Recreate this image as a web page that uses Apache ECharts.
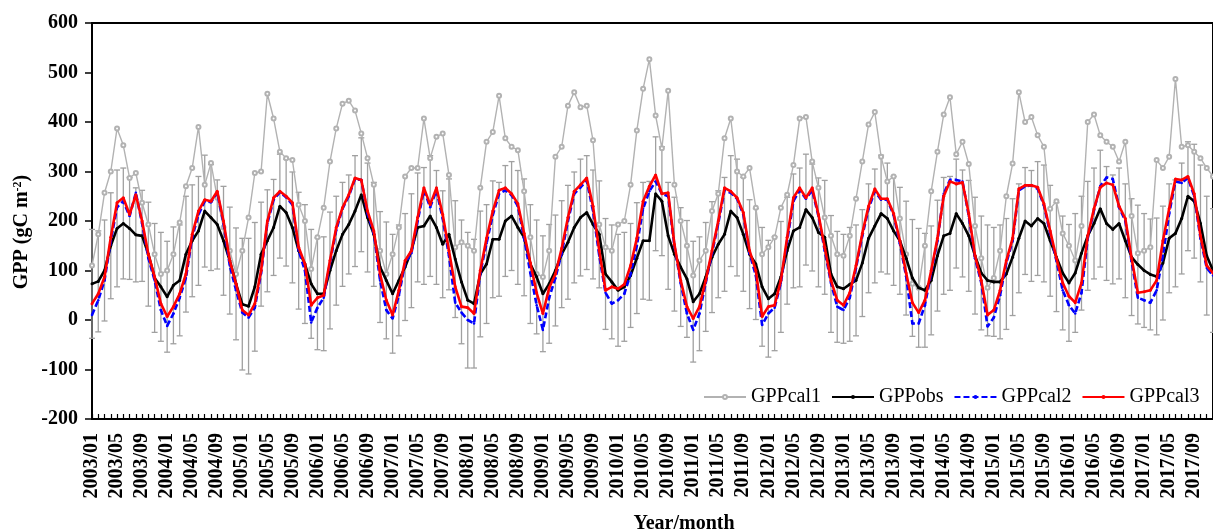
<!DOCTYPE html>
<html lang="en">
<head>
    <meta charset="UTF-8">
    <title>GPP</title>
    <script src="https://cdn.jsdelivr.net/npm/echarts@6/dist/echarts.min.js"></script>
</head>
<body style="margin: 0; background: #fff;">
    <div id="graph" style="width: 1213px; height: 530px;"></div>

    <script>
        // months 2003/01 .. 2017/12
        var years = [2003, 2004, 2005, 2006, 2007, 2008, 2009, 2010, 2011, 2012, 2013, 2014, 2015, 2016, 2017];
        var months = ['01', '02', '03', '04', '05', '06', '07', '08', '09', '10', '11', '12'];

        var gppCal1 = [
            110, 173, 257, 300, 387, 353, 287, 297, 237, 193, 133, 93,
            100, 133, 197, 270, 307, 390, 273, 317, 247, 187, 140, 93,
            140, 207, 297, 300, 457, 407, 340, 327, 323, 233, 200, 103,
            167, 227, 320, 387, 437, 443, 423, 377, 327, 273, 140, 93,
            133, 187, 290, 307, 307, 407, 327, 370, 377, 293, 147, 157,
            150, 140, 267, 360, 380, 453, 367, 350, 343, 260, 167, 93,
            87, 140, 330, 350, 433, 460, 430, 433, 363, 193, 147, 140,
            193, 200, 273, 383, 467, 527, 413, 347, 463, 273, 200, 150,
            90, 120, 140, 220, 255, 367, 407, 300, 290, 307, 227, 133,
            147, 167, 227, 253, 313, 407, 410, 320, 267, 207, 170, 133,
            130, 170, 245, 320, 395, 420, 330, 280, 290, 205, 133, 73,
            65, 150, 260, 340, 415, 450, 335, 360, 315, 190, 125, 65,
            85, 140, 250, 316, 460, 400, 410, 373, 350, 225, 240, 175,
            150, 120, 190, 400, 415, 373, 360, 350, 320, 360, 210, 135,
            140, 147, 323, 307, 330, 487, 350, 353, 340, 327, 307, 290
        ];

        var gppObs = [
            73, 78, 100, 150, 185, 195, 185, 172, 170, 133, 85, 67,
            47, 70, 80, 133, 160, 180, 220, 207, 193, 160, 120, 73,
            32, 28, 67, 133, 160, 187, 230, 217, 187, 140, 113, 73,
            53, 53, 100, 140, 173, 193, 220, 253, 207, 173, 107, 80,
            53, 80, 107, 140, 187, 190, 210, 187, 153, 173, 123, 77,
            40, 33, 93, 113, 163, 163, 200, 210, 187, 167, 113, 87,
            53, 73, 100, 133, 157, 187, 207, 217, 193, 173, 93, 77,
            60, 67, 90, 125, 160, 160, 255, 240, 170, 133, 107, 83,
            37, 53, 87, 127, 153, 173, 220, 207, 173, 133, 113, 67,
            43, 53, 87, 140, 180, 187, 223, 207, 177, 167, 93, 67,
            63, 72, 80, 115, 165, 190, 215, 205, 180, 160, 125, 85,
            65, 60, 80, 130, 170, 175, 215, 195, 170, 130, 95, 80,
            77, 77, 93, 127, 165, 200, 190, 205, 195, 160, 127, 95,
            75, 95, 135, 170, 195, 225, 195, 183, 195, 160, 127, 112,
            100, 92, 88, 115, 165, 175, 205, 250, 240, 195, 130, 100
        ];

        // half length of the error bars on GPPobs
        var obsErr = [
            110, 102, 102, 107, 118, 112, 103, 95, 92, 105, 110, 110,
            112, 118, 112, 117, 113, 110, 113, 107, 90, 110, 108, 113,
            133, 137, 130, 105, 103, 97, 105, 108, 112, 118, 120, 110,
            113, 115, 118, 110, 105, 100, 112, 115, 110, 105, 112, 118,
            120, 112, 108, 115, 110, 118, 122, 115, 108, 112, 118, 125,
            137, 130, 127, 120, 118, 115, 112, 110, 115, 118, 120, 115,
            117, 120, 112, 108, 115, 112, 118, 115, 110, 108, 112, 115,
            113, 110, 105, 112, 118, 120, 115, 110, 108, 115, 120, 118,
            122, 115, 110, 112, 108, 115, 112, 118, 115, 110, 112, 120,
            118, 115, 112, 108, 115, 120, 112, 108, 110, 115, 118, 112,
            110, 115, 112, 108, 110, 115, 118, 112, 110, 108, 115, 118,
            120, 115, 110, 112, 118, 115, 110, 108, 112, 118, 115, 112,
            110, 115, 112, 118, 110, 108, 112, 115, 118, 112, 110, 115,
            118, 120, 115, 110, 112, 118, 115, 110, 112, 115, 118, 120,
            115, 112, 118, 115, 110, 108, 112, 110, 115, 118, 120, 125
        ];

        var gppCal2 = [
            10, 40, 80, 160, 228, 240, 210, 257, 195, 125, 80, 20,
            -12, 13, 45, 85, 167, 213, 240, 238, 257, 195, 110, 60,
            15, 5, 25, 95, 195, 243, 258, 248, 233, 140, 100, -5,
            25, 45, 115, 182, 225, 250, 285, 283, 215, 175, 80, 20,
            3, 50, 115, 135, 200, 262, 228, 262, 205, 130, 35, 15,
            0, -7, 95, 155, 212, 255, 262, 252, 230, 165, 95, 30,
            -20, 45, 85, 135, 200, 255, 268, 282, 220, 130, 55, 33,
            40, 53, 93, 150, 225, 260, 280, 255, 250, 150, 75, 13,
            -20, 13, 75, 135, 195, 262, 257, 245, 213, 135, 90, -10,
            13, 25, 75, 160, 240, 262, 245, 262, 210, 140, 75, 27,
            20, 45, 105, 170, 225, 260, 243, 243, 212, 155, 88, -7,
            -7, 30, 95, 160, 255, 283, 283, 280, 210, 125, 75, -13,
            5, 50, 115, 160, 262, 270, 272, 265, 232, 175, 120, 60,
            30, 13, 55, 165, 222, 270, 288, 285, 228, 200, 118, 45,
            40, 35, 60, 130, 215, 280, 277, 287, 250, 165, 105, 90
        ];

        var gppCal3 = [
            33, 53, 87, 167, 237, 247, 213, 253, 200, 133, 87, 33,
            7, 27, 53, 93, 173, 220, 243, 240, 260, 200, 120, 73,
            20, 10, 33, 100, 200, 247, 260, 250, 237, 147, 113, 30,
            45, 50, 120, 187, 227, 253, 287, 283, 220, 180, 93, 40,
            10, 60, 120, 140, 207, 267, 233, 267, 213, 140, 67, 27,
            25, 13, 100, 165, 220, 262, 267, 255, 235, 175, 115, 55,
            13, 65, 93, 145, 207, 260, 273, 287, 230, 140, 60, 67,
            63, 72, 110, 165, 240, 270, 293, 255, 257, 153, 80, 27,
            3, 27, 80, 140, 200, 267, 260, 247, 217, 140, 100, 7,
            27, 30, 80, 167, 247, 267, 247, 267, 213, 147, 80, 40,
            30, 55, 110, 175, 230, 265, 245, 245, 215, 160, 95, 35,
            15, 40, 100, 165, 250, 280, 275, 278, 215, 130, 80, 10,
            20, 60, 120, 165, 265, 272, 272, 268, 235, 180, 125, 75,
            48, 35, 75, 170, 225, 268, 277, 273, 230, 205, 125, 55,
            57, 60, 80, 160, 225, 285, 283, 290, 255, 170, 110, 95
        ];

        var categories = [];
        for (var i = 0; i < years.length; i++) {
            for (var j = 0; j < months.length; j++) {
                categories.push(years[i] + '/' + months[j]);
            }
        }

        var errData = [];
        for (var k = 0; k < gppObs.length; k++) {
            errData.push([k, gppObs[k] - obsErr[k], gppObs[k] + obsErr[k]]);
        }

        var serif = 'Liberation Serif';

        function renderErr(params, api) {
            var lo = api.coord([api.value(0), api.value(1)]);
            var hi = api.coord([api.value(0), api.value(2)]);
            var w = 3;
            var st = {stroke: '#a0a0a0', lineWidth: 1.3};
            return {
                type: 'group',
                children: [
                    {type: 'line', shape: {x1: lo[0], y1: lo[1], x2: hi[0], y2: hi[1]}, style: st},
                    {type: 'line', shape: {x1: lo[0] - w, y1: lo[1], x2: lo[0] + w, y2: lo[1]}, style: st},
                    {type: 'line', shape: {x1: hi[0] - w, y1: hi[1], x2: hi[0] + w, y2: hi[1]}, style: st}
                ]
            };
        }

        var myChart = echarts.init(document.getElementById('graph'));
        var option = {
            animation: false,
            backgroundColor: '#fff',
            grid: {
                left: 92, right: -2, top: 23, bottom: 111,
                show: true, borderColor: '#000', borderWidth: 2
            },
            legend: {
                data: ['GPPcal1', 'GPPobs', 'GPPcal2', 'GPPcal3'],
                left: 698, top: 382,
                itemWidth: 42, itemHeight: 5, itemGap: 10,
                textStyle: {fontFamily: serif, fontSize: 20, color: '#000'}
            },
            xAxis: {
                type: 'category',
                data: categories,
                boundaryGap: false,
                axisLine: {onZero: false, lineStyle: {color: '#000', width: 2}},
                axisTick: {inside: true, length: 5, interval: 0, lineStyle: {color: '#000', width: 1.2}},
                axisLabel: {
                    interval: 3, rotate: 90, margin: 14, padding: [10, 0, 0, 0],
                    fontFamily: serif, fontWeight: 'bold', fontSize: 20, color: '#000'
                },
                splitLine: {show: false}
            },
            yAxis: {
                type: 'value',
                min: -200, max: 600, interval: 100,
                axisLine: {show: true, lineStyle: {color: '#000', width: 2}},
                axisTick: {show: true, length: 7, lineStyle: {color: '#000', width: 1.5}},
                axisLabel: {margin: 14, fontFamily: serif, fontWeight: 'bold', fontSize: 20, color: '#000'},
                splitLine: {show: false}
            },
            graphic: [
                {
                    type: 'text', x: 22, y: 232, rotation: Math.PI / 2,
                    style: {
                        text: '{a|GPP (gC m}{b|-2}{a|)}',
                        align: 'center', verticalAlign: 'middle',
                        rich: {
                            a: {fontFamily: serif, fontWeight: 'bold', fontSize: 20, fill: '#000'},
                            b: {fontFamily: serif, fontWeight: 'bold', fontSize: 12, fill: '#000', verticalAlign: 'top', padding: [0, 0, 8, 0]}
                        }
                    }
                },
                {
                    type: 'text', x: 684, y: 524,
                    style: {
                        text: 'Year/month', align: 'center', verticalAlign: 'middle',
                        font: 'bold 20px "Liberation Serif"', fill: '#000'
                    }
                }
            ],
            series: [
                {
                    name: 'err', type: 'custom', data: errData, renderItem: renderErr,
                    z: 1, silent: true
                },
                {
                    name: 'GPPcal1', type: 'line', data: gppCal1, z: 2,
                    symbol: 'emptyCircle', symbolSize: 4, showAllSymbol: true,
                    itemStyle: {color: '#b2b2b2'},
                    lineStyle: {color: '#b2b2b2', width: 1.4}
                },
                {
                    name: 'GPPobs', type: 'line', data: gppObs, z: 3,
                    symbol: 'circle', symbolSize: 3, showAllSymbol: true,
                    itemStyle: {color: '#000'},
                    lineStyle: {color: '#000', width: 2.6}
                },
                {
                    name: 'GPPcal2', type: 'line', data: gppCal2, z: 4,
                    symbol: 'circle', symbolSize: 2.5, showAllSymbol: true,
                    itemStyle: {color: '#0000ff'},
                    lineStyle: {color: '#0000ff', width: 2.6, type: [6, 3]}
                },
                {
                    name: 'GPPcal3', type: 'line', data: gppCal3, z: 5,
                    symbol: 'circle', symbolSize: 3, showAllSymbol: true,
                    itemStyle: {color: '#ff0000'},
                    lineStyle: {color: '#ff0000', width: 2.6}
                }
            ]
        };
        myChart.setOption(option);
    </script>
</body>
</html>
